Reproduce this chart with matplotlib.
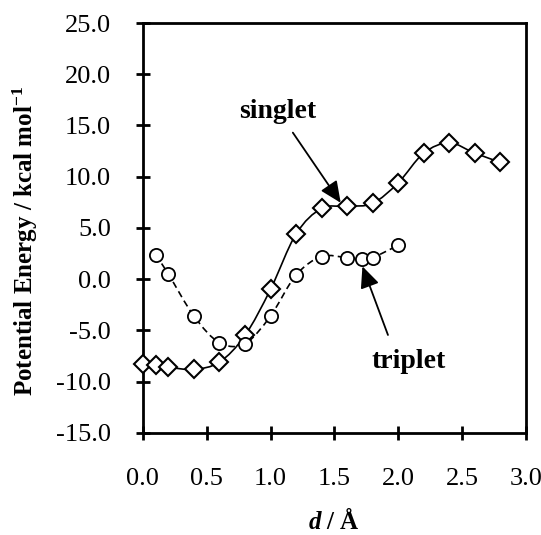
import matplotlib
matplotlib.use("Agg")
import matplotlib.pyplot as plt
import numpy as np
from matplotlib.path import Path
from matplotlib.patches import PathPatch

# data
singlet_d = [0.0, 0.1, 0.2, 0.4, 0.6, 0.8, 1.0, 1.2, 1.4, 1.6, 1.8, 2.0, 2.2, 2.4, 2.6, 2.8]
singlet_e = [-8.3, -8.4, -8.6, -8.8, -8.1, -5.5, -1.0, 4.4, 6.9, 7.1, 7.4, 9.4, 12.3, 13.3, 12.3, 11.4]

triplet_d = [0.1, 0.2, 0.4, 0.6, 0.8, 1.0, 1.2, 1.4, 1.6, 1.72, 1.8, 2.0]
triplet_e = [2.4, 0.5, -3.6, -6.2, -6.3, -3.6, 0.4, 2.2, 2.1, 2.0, 2.1, 3.3]

x_ticks = [0.0, 0.5, 1.0, 1.5, 2.0, 2.5, 3.0]
y_ticks = [-15.0, -10.0, -5.0, 0.0, 5.0, 10.0, 15.0, 20.0, 25.0]

plt.rcParams['font.family'] = ['Liberation Serif', 'DejaVu Serif']
plt.rcParams['mathtext.fontset'] = 'custom'
plt.rcParams['mathtext.rm'] = 'Liberation Serif'
plt.rcParams['mathtext.bf'] = 'Liberation Serif:bold'
plt.rcParams['mathtext.it'] = 'Liberation Serif:italic'
plt.rcParams['mathtext.bfit'] = 'Liberation Serif:italic:bold'


def smooth_path(xs, ys):
    # Excel-like smoothed line: cubic Bezier through the points
    pts = np.column_stack([xs, ys])
    n = len(pts)
    verts = [pts[0]]
    codes = [Path.MOVETO]
    for i in range(n - 1):
        p0 = pts[i - 1] if i > 0 else pts[i]
        p1 = pts[i]
        p2 = pts[i + 1]
        p3 = pts[i + 2] if i + 2 < n else pts[i + 1]
        c1 = p1 + (p2 - p0) / 6.0
        c2 = p2 - (p3 - p1) / 6.0
        verts += [c1, c2, p2]
        codes += [Path.CURVE4] * 3
    return Path(verts, codes)


fig = plt.figure(figsize=(5.41, 5.35), dpi=100)
ax = fig.add_axes([0.264, 0.191, 0.708, 0.766])

ax.add_patch(PathPatch(smooth_path(singlet_d, singlet_e), fill=False,
                       edgecolor='black', lw=1.2, zorder=2))
ax.add_patch(PathPatch(smooth_path(triplet_d, triplet_e), fill=False,
                       edgecolor='black', lw=1.2, linestyle=(0, (4, 2.5)), zorder=2))

ax.plot(singlet_d, singlet_e, linestyle='none', marker='D', markersize=9,
        markerfacecolor='white', markeredgecolor='black', markeredgewidth=1.5,
        zorder=3, clip_on=False)
ax.plot(triplet_d, triplet_e, linestyle='none', marker='o', markersize=9.5,
        markerfacecolor='white', markeredgecolor='black', markeredgewidth=1.3,
        zorder=3, clip_on=False)

ax.set_xlim(0, 3.0)
ax.set_ylim(-15, 25)
ax.set_xticks(x_ticks)
ax.set_yticks(y_ticks)
ax.set_xticklabels([f'{v:.1f}' for v in x_ticks])
ax.set_yticklabels([f'{v:.1f}' for v in y_ticks])
ax.tick_params(axis='both', direction='inout', length=10, width=2, labelsize=19)
ax.tick_params(axis='x', pad=20)
ax.tick_params(axis='y', pad=18)
for s in ax.spines.values():
    s.set_linewidth(2)

fig.text(0.617, 0.026, '$\\mathbfit{d}$ / Å', fontsize=18, fontweight='bold',
         ha='center', va='center')
fig.text(0.046, 0.55, 'Potential Energy / kcal mol$^{\\mathbf{-1}}$', fontsize=18,
         fontweight='bold', rotation=90, ha='center', va='center')

arrow = dict(arrowstyle='-|>,head_length=1.0,head_width=0.45', color='black',
             lw=1.3, shrinkA=0, shrinkB=0, mutation_scale=13)
ax.annotate('', xy=(1.55, 7.45), xytext=(1.175, 14.3), arrowprops=arrow)
ax.annotate('', xy=(1.72, 1.25), xytext=(1.92, -5.45), arrowprops=arrow)
ax.text(1.06, 16.4, 'singlet', fontsize=20, fontweight='bold',
        ha='center', va='center')
ax.text(2.08, -8.0, 'triplet', fontsize=20, fontweight='bold',
        ha='center', va='center')

fig.savefig('out.png', dpi=100)
